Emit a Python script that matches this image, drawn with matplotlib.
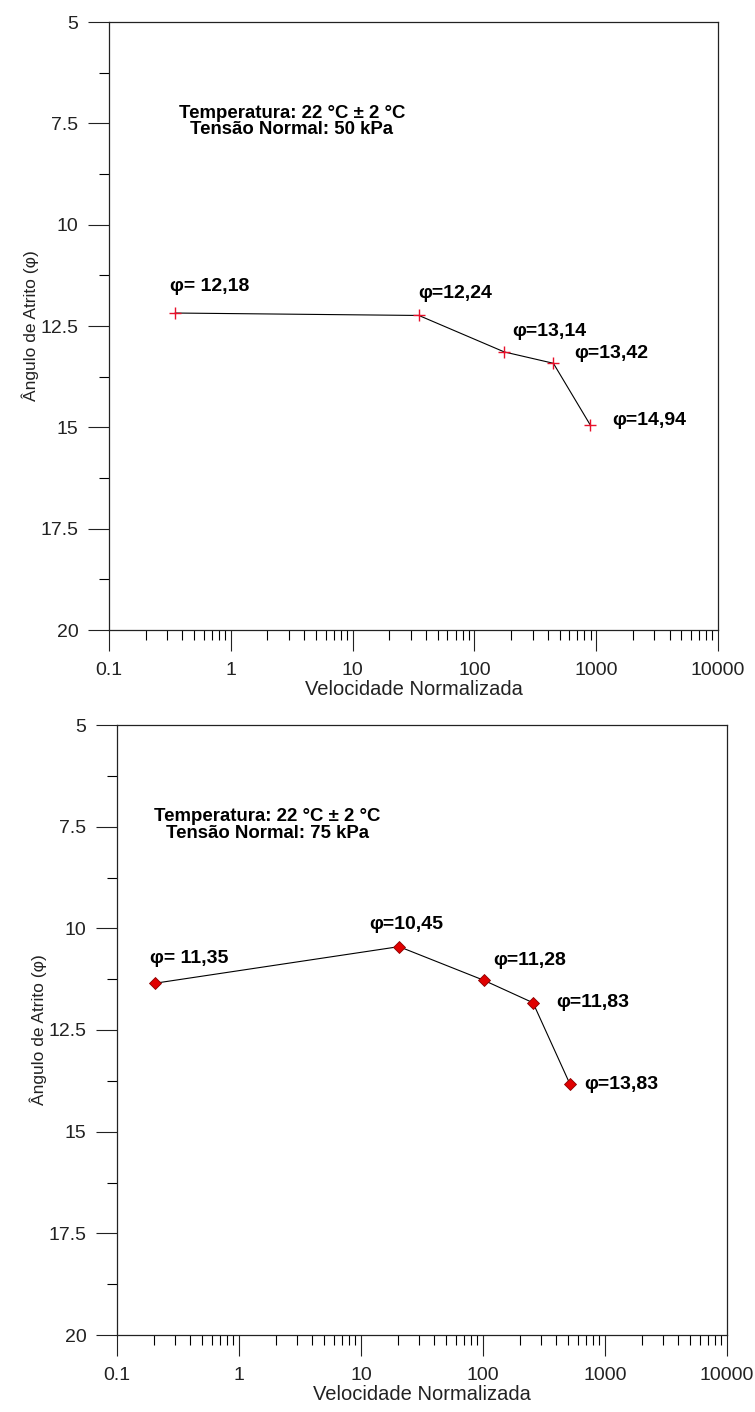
import matplotlib
matplotlib.use("Agg")
import matplotlib.pyplot as plt
from matplotlib.ticker import FixedLocator, LogLocator, MultipleLocator, NullFormatter

plt.rcParams['font.family'] = ['Liberation Sans', 'DejaVu Sans']

# Painel superior - tensao normal 50 kPa
vel_50 = [0.35, 35, 176, 445, 893]
phi_50 = [12.18, 12.24, 13.14, 13.42, 14.94]
lab_50 = ["φ= 12,18", "φ=12,24", "φ=13,14", "φ=13,42", "φ=14,94"]

# Painel inferior - tensao normal 75 kPa
vel_75 = [0.205, 20.5, 102, 257, 516]
phi_75 = [11.35, 10.45, 11.28, 11.83, 13.83]
lab_75 = ["φ= 11,35", "φ=10,45", "φ=11,28", "φ=11,83", "φ=13,83"]

x_ticks = [0.1, 1, 10, 100, 1000, 10000]
x_ticklabels = ["0.1", "1", "10", "100", "1000", "10000"]
y_ticks = [5, 7.5, 10, 12.5, 15, 17.5, 20]
y_ticklabels = ["5", "7.5", "10", "12.5", "15", "17.5", "20"]

fig = plt.figure(figsize=(7.55, 14.12), dpi=100)


def style_axes(ax):
    ax.set_xscale('log')
    ax.set_xlim(0.1, 10000)
    ax.set_ylim(20, 5)
    ax.xaxis.set_major_locator(FixedLocator(x_ticks))
    ax.set_xticklabels(x_ticklabels)
    ax.xaxis.set_minor_locator(LogLocator(base=10, subs=range(2, 10)))
    ax.xaxis.set_minor_formatter(NullFormatter())
    ax.yaxis.set_major_locator(FixedLocator(y_ticks))
    ax.set_yticklabels(y_ticklabels)
    ax.yaxis.set_minor_locator(MultipleLocator(1.25))
    ax.tick_params(which='major', direction='out', length=15, width=0.8,
                   labelsize=14, pad=7, colors='#222222')
    ax.tick_params(which='minor', direction='out', length=7, width=0.8)
    ax.tick_params(axis='x', which='major', pad=8)
    for sp in ax.spines.values():
        sp.set_linewidth(0.9)
        sp.set_color('#222222')
    ax.set_xlabel("Velocidade Normalizada", fontsize=14.5, labelpad=1, color='#222222')
    ax.set_ylabel("Ângulo de Atrito (φ)", fontsize=12.5, color='#222222')
    ax.yaxis.set_label_coords(-0.115, 0.5)


# --- painel 50 kPa ---
ax1 = fig.add_axes([109 / 755, 1 - 630 / 1412, 609 / 755, 608 / 1412])
style_axes(ax1)
ax1.plot(vel_50, phi_50, color='black', lw=0.8, marker='+', ms=8,
         mec='#e8102a', mew=1.0, zorder=3)
offs_50 = [(-5, 27), (-1, 22), (8, 20), (21, 10), (22, 4)]
for x, y, t, o in zip(vel_50, phi_50, lab_50, offs_50):
    ax1.annotate(t, (x, y), xytext=o, textcoords='offset pixels',
                 ha='left', va='center', fontsize=14, fontweight='bold')
ax1.text(0.30, 0.836, "Temperatura: 22 °C ± 2 °C\nTensão Normal: 50 kPa",
         transform=ax1.transAxes, ha='center', va='center', fontsize=13.4,
         fontweight='bold', linespacing=0.95)

# --- painel 75 kPa ---
ax2 = fig.add_axes([117 / 755, 1 - 1335 / 1412, 610 / 755, 610 / 1412])
style_axes(ax2)
ax2.plot(vel_75, phi_75, color='black', lw=0.8, marker='D', ms=6,
         mfc='#e00000', mec='#8a0000', mew=0.6, zorder=3)
offs_75 = [(-5, 25), (-30, 22), (9, 20), (23, 0), (14, 0)]
for x, y, t, o in zip(vel_75, phi_75, lab_75, offs_75):
    ax2.annotate(t, (x, y), xytext=o, textcoords='offset pixels',
                 ha='left', va='center', fontsize=14, fontweight='bold')
ax2.text(0.246, 0.836, "Temperatura: 22 °C ± 2 °C\nTensão Normal: 75 kPa",
         transform=ax2.transAxes, ha='center', va='center', fontsize=13.4,
         fontweight='bold', linespacing=0.95)

fig.savefig("out.png", dpi=100)
